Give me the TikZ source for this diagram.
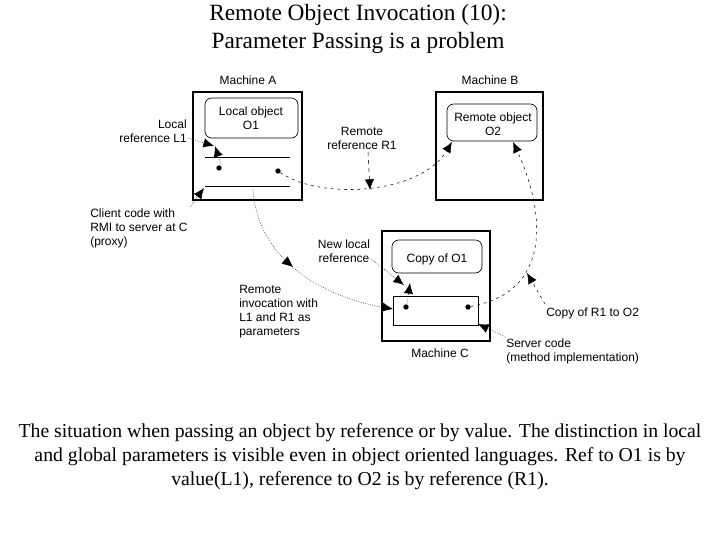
\documentclass[tikz,border=0pt]{standalone}
\usepackage{fontspec}
\setmainfont{Liberation Serif}
\newfontfamily\lsans{Liberation Sans}
\usetikzlibrary{arrows.meta,decorations.markings}
\begin{document}
\begin{tikzpicture}[x=0.75pt,y=-0.75pt,
  mach/.style={draw,line width=1.3pt},
  obj/.style={draw,rounded corners=5pt,line width=0.5pt},
  lab/.style={font=\lsans\fontsize{9}{10.5}\selectfont,align=center,inner sep=0pt},
  tip/.style={-{Latex[length=8pt,width=7pt]}},
  ldr/.style={densely dotted,tip},
  dot/.style={circle,fill,inner sep=0pt,minimum size=4pt}]
\useasboundingbox (0,0) rectangle (720,540);
\node[align=center,font=\fontsize{17.5}{21}\selectfont] (t) at (358,29) {Remote Object Invocation (10):\\Parameter Passing is a problem};
\node[align=center,font=\fontsize{14.8}{18}\selectfont] (cap) at (360,457) {The situation when passing an object by reference or by value. The distinction in local\\and global parameters is visible even in object oriented languages. Ref to O1 is by\\value(L1), reference to O2 is by reference (R1).};
% Machine A
\draw[mach] (193,92) rectangle (302,200);
\node[lab] (mA) at (248,80) {Machine A};
\draw[obj] (205,98) rectangle (298,138);
\node[lab] (o1) at (251,118) {Local object\\O1};
\draw (205,157) -- (290,157) (205,186) -- (290,186);
\node[dot] (a1) at (219,168) {};
\node[dot] (a2) at (278,171) {};
\coordinate (a3) at (253,189);
% Machine B
\draw[mach] (436,92) rectangle (543,200);
\node[lab] (mB) at (490,80) {Machine B};
\draw[obj] (447,104) rectangle (537,141);
\node[lab] (o2) at (493,124) {Remote object\\O2};
\coordinate (b1) at (452,142);
\coordinate (b2) at (513,142);
% Machine C
\draw[mach] (382,231) rectangle (490,341);
\node[lab] (mC) at (440,353) {Machine C};
\draw[obj] (392,240) rectangle (482,273);
\node[lab] (c1) at (437,259) {Copy of O1};
\draw (393,296) rectangle (478,325);
\node[dot] (c2) at (406,307) {};
\node[dot] (c3) at (468,307) {};
\coordinate (cL) at (393,309);
\coordinate (cR) at (478,325);
% labels
\node[lab,align=right,anchor=east] (l1) at (187,131) {Local\\reference L1};
\node[lab] (r1) at (362,138) {Remote\\reference R1};
\node[lab,align=left,anchor=west] (cc) at (90,228) {Client code with\\RMI to server at C\\(proxy)};
\node[lab] (nl) at (344,251) {New local\\reference};
\node[lab,align=left,anchor=west] (ri) at (239,312) {Remote\\invocation with\\L1 and R1 as\\parameters};
\node[lab,anchor=west] (cr) at (546,313) {Copy of R1 to O2};
\node[lab,align=left,anchor=west] (sc) at (506,351) {Server code\\(method implementation)};
% leaders
\draw[ldr] (188,138) -- (214,146);
\draw[ldr] (221,165) -- (215,146);
\draw[ldr,dash pattern=on 3pt off 3pt] (368,152) -- (370,190);
\draw[ldr] (190,207) -- (204,188);
\draw[ldr] (371,259) -- (404,285);
\draw[ldr] (407,304) -- (410,283);
\draw[ldr] (506,337) -- (478,324);
\draw[ldr,dash pattern=on 2pt off 3pt] (545,304) -- (527,273);
% curves
\draw[ldr,dash pattern=on 2pt off 3pt] (a2) .. controls (320,200) and (420,195) .. (b1);
\draw[densely dotted,tip,postaction={decorate},decoration={markings,mark=at position 0.45 with {\fill (0,0)--(-8pt,3.5pt)--(-8pt,-3.5pt)--cycle;}}] (a3) .. controls (258,270) and (340,300) .. (cL);
\draw[dash pattern=on 2pt off 3pt,tip] (c3) .. controls (560,290) and (540,200) .. (b2);
\end{tikzpicture}
\end{document}
